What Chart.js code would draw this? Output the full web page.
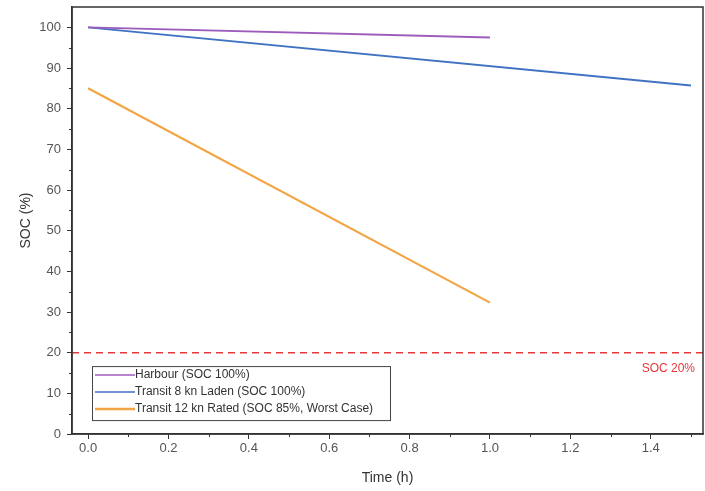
<!DOCTYPE html>
<html>
<head>
<meta charset="utf-8">
<script src="https://cdn.jsdelivr.net/npm/chart.js@4"></script>
<style>
  body { margin: 0; background: #fff; }
  canvas { display: block; }
</style>
</head>
<body>
<canvas id="myChart" width="705" height="491"></canvas>
<script>
// data
const harbourTime = [0, 1.0];
const harbourSoc = [100, 97.5];
const transit8Time = [0, 1.5];
const transit8Soc = [100, 85.7];
const transit12Time = [0, 1.0];
const transit12Soc = [85, 32.3];
const limitTime = [-0.04, 1.53];
const limitSoc = [20, 20];
const seriesLabels = ['Harbour (SOC 100%)', 'Transit 8 kn Laden (SOC 100%)', 'Transit 12 kn Rated (SOC 85%, Worst Case)'];
const seriesColors = ['#9c5cbc', '#3f72c2', '#f2a544'];

const toPoints = (xs, ys) => xs.map((x, i) => ({ x: x, y: ys[i] }));

const FONT = '"Liberation Sans", Arial, sans-serif';

// frame, minor ticks, legend box and SOC 20% label
const extrasPlugin = {
  id: 'extras',
  afterDraw(chart) {
    const ctx = chart.ctx;
    const a = chart.chartArea;
    const xs = chart.scales.x;
    const ys = chart.scales.y;
    ctx.save();
    ctx.strokeStyle = '#333';
    ctx.lineWidth = 1.5;
    ctx.strokeRect(a.left, a.top, a.right - a.left, a.bottom - a.top);

    // minor ticks
    ctx.lineWidth = 1;
    ctx.beginPath();
    for (let v = 5; v < 105; v += 10) {
      const py = Math.round(ys.getPixelForValue(v)) + 0.5;
      ctx.moveTo(a.left, py); ctx.lineTo(a.left - 3, py);
    }
    for (let v = 0.1; v < 1.53; v += 0.2) {
      const px = Math.round(xs.getPixelForValue(v)) + 0.5;
      ctx.moveTo(px, a.bottom); ctx.lineTo(px, a.bottom + 3);
    }
    ctx.stroke();

    // SOC 20% label
    ctx.fillStyle = '#e8363a';
    ctx.font = '12px ' + FONT;
    ctx.textAlign = 'right';
    ctx.textBaseline = 'middle';
    ctx.fillText('SOC 20%', a.right - 8, ys.getPixelForValue(20) + 16);

    // legend
    const bx = a.left + 20, by = ys.getPixelForValue(16.7);
    const bw = 298, bh = 54;
    ctx.fillStyle = '#fff';
    ctx.fillRect(bx, by, bw, bh);
    ctx.strokeStyle = '#444';
    ctx.lineWidth = 1;
    ctx.strokeRect(bx + 0.5, by + 0.5, bw, bh);
    ctx.textAlign = 'left';
    for (let i = 0; i < seriesLabels.length; i++) {
      const ly = by + 9 + i * 17;
      ctx.strokeStyle = seriesColors[i];
      ctx.lineWidth = i === 2 ? 2.5 : 1.5;
      ctx.beginPath();
      ctx.moveTo(bx + 3, ly); ctx.lineTo(bx + 43, ly);
      ctx.stroke();
      ctx.fillStyle = '#333';
      ctx.fillText(seriesLabels[i], bx + 43, ly);
    }
    ctx.restore();
  }
};

const config = {
  type: 'scatter',
  data: {
    datasets: [{
      label: seriesLabels[0],
      data: toPoints(harbourTime, harbourSoc),
      borderColor: seriesColors[0],
      borderWidth: 1.8,
      showLine: true,
      pointRadius: 0
    }, {
      label: seriesLabels[1],
      data: toPoints(transit8Time, transit8Soc),
      borderColor: seriesColors[1],
      borderWidth: 1.8,
      showLine: true,
      pointRadius: 0
    }, {
      label: seriesLabels[2],
      data: toPoints(transit12Time, transit12Soc),
      borderColor: seriesColors[2],
      borderWidth: 2.2,
      showLine: true,
      pointRadius: 0
    }, {
      label: 'SOC 20%',
      data: toPoints(limitTime, limitSoc),
      borderColor: '#e8363a',
      borderWidth: 1.5,
      borderDash: [7, 5],
      showLine: true,
      pointRadius: 0
    }]
  },
  options: {
    responsive: false,
    animation: false,
    layout: { padding: { top: 7, right: 2, left: 14, bottom: 0 } },
    plugins: {
      legend: { display: false },
      tooltip: { enabled: false }
    },
    scales: {
      x: {
        type: 'linear',
        min: -0.04,
        max: 1.53,
        afterFit: (s) => { s.height = 57; s.paddingLeft = 0; s.paddingRight = 0; },
        border: { display: true, color: '#333', width: 1.5 },
        grid: { drawOnChartArea: false, drawTicks: true, tickLength: 5, color: '#333' },
        ticks: {
          stepSize: 0.2,
          includeBounds: false,
          color: '#555',
          font: { family: FONT, size: 13 },
          padding: 2,
          callback: (v) => Number(v).toFixed(1)
        },
        title: { display: true, text: 'Time (h)', color: '#333', font: { family: FONT, size: 14 }, padding: { top: 4 } }
      },
      y: {
        type: 'linear',
        min: 0,
        max: 105,
        afterFit: (s) => { s.width = 58; s.paddingTop = 0; s.paddingBottom = 0; },
        border: { display: true, color: '#333', width: 1.5 },
        grid: { drawOnChartArea: false, drawTicks: true, tickLength: 5, color: '#333' },
        ticks: {
          stepSize: 10,
          includeBounds: false,
          color: '#555',
          font: { family: FONT, size: 13 },
          padding: 6
        },
        title: { display: true, text: 'SOC (%)', color: '#333', font: { family: FONT, size: 14 }, padding: { bottom: 6 } }
      }
    }
  },
  plugins: [extrasPlugin]
};

const myChart = new Chart(document.getElementById('myChart'), config);
</script>
</body>
</html>
